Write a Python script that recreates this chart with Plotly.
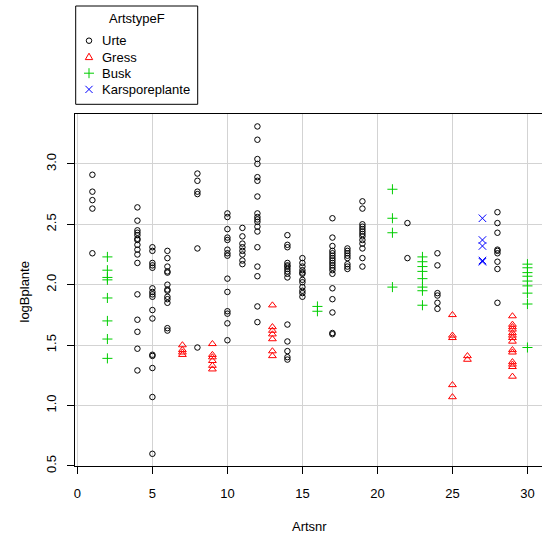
import plotly.graph_objects as go

# ---- data ----
urte_x = ([1]*5 + [4]*16 + [5]*16 + [6]*13 + [8]*6 + [10]*14 + [11]*8 + [12]*18 +
          [14]*15 + [15]*12 + [17]*18 + [18]*8 + [19]*13 + [22]*2 + [24]*6 + [28]*9)
urte_y = ([2.91, 2.77, 2.70, 2.63, 2.26] +
          [2.64, 2.53, 2.45, 2.43, 2.41, 2.38, 2.37, 2.33, 2.29, 2.25, 2.18, 1.92, 1.71, 1.61, 1.47, 1.29] +
          [2.31, 2.28, 2.18, 2.16, 2.14, 1.97, 1.94, 1.92, 1.90, 1.79, 1.72, 1.42, 1.41, 1.31, 1.07, 0.60] +
          [2.28, 2.22, 2.15, 2.11, 2.10, 2.00, 1.96, 1.95, 1.90, 1.88, 1.85, 1.64, 1.62] +
          [2.92, 2.86, 2.77, 2.75, 2.30, 1.48] +
          [2.59, 2.56, 2.46, 2.39, 2.37, 2.29, 2.26, 2.24, 2.05, 1.94, 1.78, 1.76, 1.68, 1.54] +
          [2.47, 2.40, 2.34, 2.31, 2.28, 2.25, 2.20, 2.17] +
          [3.31, 3.20, 3.04, 3.00, 2.89, 2.86, 2.73, 2.59, 2.56, 2.54, 2.52, 2.48, 2.44, 2.31, 2.15, 2.07, 1.82, 1.69] +
          [2.41, 2.33, 2.31, 2.18, 2.16, 2.15, 2.13, 2.11, 2.09, 2.06, 1.67, 1.53, 1.45, 1.40, 1.38] +
          [2.22, 2.18, 2.15, 2.12, 2.10, 2.09, 2.04, 2.02, 1.98, 1.95, 1.93, 1.90] +
          [2.55, 2.39, 2.32, 2.28, 2.26, 2.24, 2.22, 2.20, 2.18, 2.16, 2.14, 2.12, 2.09, 1.97, 1.88, 1.77, 1.60, 1.59] +
          [2.30, 2.28, 2.26, 2.24, 2.22, 2.17, 2.15, 2.13] +
          [2.69, 2.63, 2.50, 2.48, 2.46, 2.44, 2.42, 2.40, 2.37, 2.34, 2.30, 2.22, 2.15] +
          [2.51, 2.22] +
          [2.26, 2.16, 1.93, 1.91, 1.85, 1.80] +
          [2.60, 2.51, 2.43, 2.29, 2.28, 2.26, 2.19, 2.13, 1.85])

gress_x = [7]*4 + [9]*6 + [13]*7 + [25]*5 + [26]*2 + [29]*14
gress_y = [1.50, 1.46, 1.44, 1.42,
           1.51, 1.42, 1.40, 1.37, 1.33, 1.30,
           1.83, 1.65, 1.62, 1.59, 1.55, 1.45, 1.41,
           1.75, 1.58, 1.56, 1.17, 1.07,
           1.41, 1.38,
           1.74, 1.67, 1.65, 1.63, 1.60, 1.58, 1.56, 1.53, 1.46, 1.44, 1.36, 1.34, 1.32, 1.24]

busk_x = [2]*8 + [16]*2 + [21]*4 + [23]*8 + [30]*9
busk_y = [2.23, 2.12, 2.06, 2.04, 1.89, 1.70, 1.55, 1.39,
          1.82, 1.78,
          2.79, 2.55, 2.43, 1.98,
          2.23, 2.19, 2.15, 2.11, 2.05, 1.98, 1.95, 1.83,
          2.17, 2.14, 2.10, 2.07, 2.03, 1.99, 1.93, 1.84, 1.48]

kars_x = [27]*5
kars_y = [2.55, 2.37, 2.32, 2.20, 2.19]

x_ticks = [0, 5, 10, 15, 20, 25, 30]
y_ticks = [0.5, 1.0, 1.5, 2.0, 2.5, 3.0]
y_ticktext = ["0.5", "1.0", "1.5", "2.0", "2.5", "3.0"]

legend_title = "ArtstypeF"
legend_labels = ["Urte", "Gress", "Busk", "Karsporeplante"]
legend_colors = ["#000000", "#FF0000", "#00CD00", "#0000FF"]

FONT = "Liberation Sans, Arial, sans-serif"
FS = 13

W, H = 542, 534
ML, MR, MT, MB = 75, 0, 114, 68
PW, PH = W - ML - MR, H - MT - MB


def xp(px):
    return (px - ML) / PW


def yp(py):
    return (H - MB - py) / PH


fig = go.Figure()
fig.add_trace(go.Scatter(x=urte_x, y=urte_y, mode="markers", name=legend_labels[0],
                         marker=dict(symbol="circle-open", size=5.5, color=legend_colors[0],
                                     line=dict(width=1, color=legend_colors[0]))))
fig.add_trace(go.Scatter(x=gress_x, y=gress_y, mode="markers", name=legend_labels[1],
                         marker=dict(symbol="triangle-up-open", size=6.8, color=legend_colors[1],
                                     line=dict(width=1, color=legend_colors[1]))))
fig.add_trace(go.Scatter(x=busk_x, y=busk_y, mode="markers", name=legend_labels[2],
                         marker=dict(symbol="cross-thin-open", size=7.2, color=legend_colors[2],
                                     line=dict(width=1, color=legend_colors[2]))))
fig.add_trace(go.Scatter(x=kars_x, y=kars_y, mode="markers", name=legend_labels[3],
                         marker=dict(symbol="x-thin-open", size=7.5, color=legend_colors[3],
                                     line=dict(width=1, color=legend_colors[3]))))

# ---- manual legend box in the style of base R legend() ----
shapes = []
annotations = []
box = dict(x0=75.7, x1=197.7, y0=6, y1=104.3)
shapes.append(dict(type="rect", xref="paper", yref="paper",
                   x0=xp(box["x0"]), x1=xp(box["x1"]), y0=yp(box["y1"]), y1=yp(box["y0"]),
                   line=dict(color="black", width=1), fillcolor="white", layer="above"))
annotations.append(dict(text=legend_title, xref="paper", yref="paper",
                        x=xp((box["x0"] + box["x1"]) / 2), y=yp(18.5),
                        xanchor="center", yanchor="middle", showarrow=False,
                        font=dict(size=FS, family=FONT, color="black")))
row_y = [40.7, 57.0, 73.2, 89.4]
sym_x = 89.0
for lab, col, ry in zip(legend_labels, legend_colors, row_y):
    annotations.append(dict(text=lab, xref="paper", yref="paper",
                            x=xp(99.5), y=yp(ry), xanchor="left", yanchor="middle",
                            showarrow=False, font=dict(size=FS, family=FONT, color="black")))
# legend keys
r = 2.75
shapes.append(dict(type="circle", xref="paper", yref="paper",
                   x0=xp(sym_x - r), x1=xp(sym_x + r), y0=yp(row_y[0] + r), y1=yp(row_y[0] - r),
                   line=dict(color=legend_colors[0], width=1), layer="above"))
ty = row_y[1]
tri = "M {:.5f},{:.5f} L {:.5f},{:.5f} L {:.5f},{:.5f} Z".format(
    xp(sym_x - 3.7), yp(ty + 2.6), xp(sym_x + 3.7), yp(ty + 2.6), xp(sym_x), yp(ty - 3.8))
shapes.append(dict(type="path", xref="paper", yref="paper", path=tri,
                   line=dict(color=legend_colors[1], width=1), layer="above"))
cy = row_y[2]
shapes.append(dict(type="line", xref="paper", yref="paper",
                   x0=xp(sym_x - 5), x1=xp(sym_x + 5), y0=yp(cy), y1=yp(cy),
                   line=dict(color=legend_colors[2], width=1), layer="above"))
shapes.append(dict(type="line", xref="paper", yref="paper",
                   x0=xp(sym_x), x1=xp(sym_x), y0=yp(cy - 5), y1=yp(cy + 5),
                   line=dict(color=legend_colors[2], width=1), layer="above"))
ky = row_y[3]
d = 3.6
shapes.append(dict(type="line", xref="paper", yref="paper",
                   x0=xp(sym_x - d), x1=xp(sym_x + d), y0=yp(ky - d), y1=yp(ky + d),
                   line=dict(color=legend_colors[3], width=1), layer="above"))
shapes.append(dict(type="line", xref="paper", yref="paper",
                   x0=xp(sym_x - d), x1=xp(sym_x + d), y0=yp(ky + d), y1=yp(ky - d),
                   line=dict(color=legend_colors[3], width=1), layer="above"))

# axis titles
annotations.append(dict(text="Artsnr", xref="paper", yref="paper", x=xp(309), y=yp(526.7),
                        xanchor="center", yanchor="middle", showarrow=False,
                        font=dict(size=FS, family=FONT, color="black")))
annotations.append(dict(text="logBplante", xref="paper", yref="paper", x=xp(23.5), y=yp(292),
                        xanchor="center", yanchor="middle", textangle=-90, showarrow=False,
                        font=dict(size=FS, family=FONT, color="black")))

fig.update_layout(
    width=W, height=H,
    margin=dict(l=ML, r=MR, t=MT, b=MB, autoexpand=False),
    paper_bgcolor="white", plot_bgcolor="white",
    font=dict(family=FONT, size=FS, color="black"),
    showlegend=False,
    shapes=shapes, annotations=annotations,
)
fig.update_xaxes(
    range=[-0.16, 30.97], tickmode="array", tickvals=x_ticks,
    showgrid=True, gridcolor="#D3D3D3", gridwidth=1, zeroline=False,
    showline=True, linecolor="black", linewidth=1, mirror=True,
    ticks="outside", ticklen=7, tickcolor="black", tickwidth=1,
    ticklabelstandoff=8, automargin=False,
)
fig.update_yaxes(
    range=[0.499, 3.413], tickmode="array", tickvals=y_ticks, ticktext=y_ticktext,
    tickangle=-90,
    showgrid=True, gridcolor="#D3D3D3", gridwidth=1, zeroline=False,
    showline=True, linecolor="black", linewidth=1, mirror=False,
    ticks="outside", ticklen=7, tickcolor="black", tickwidth=1,
    ticklabelstandoff=6, automargin=False,
)

fig.write_html("out.html")
